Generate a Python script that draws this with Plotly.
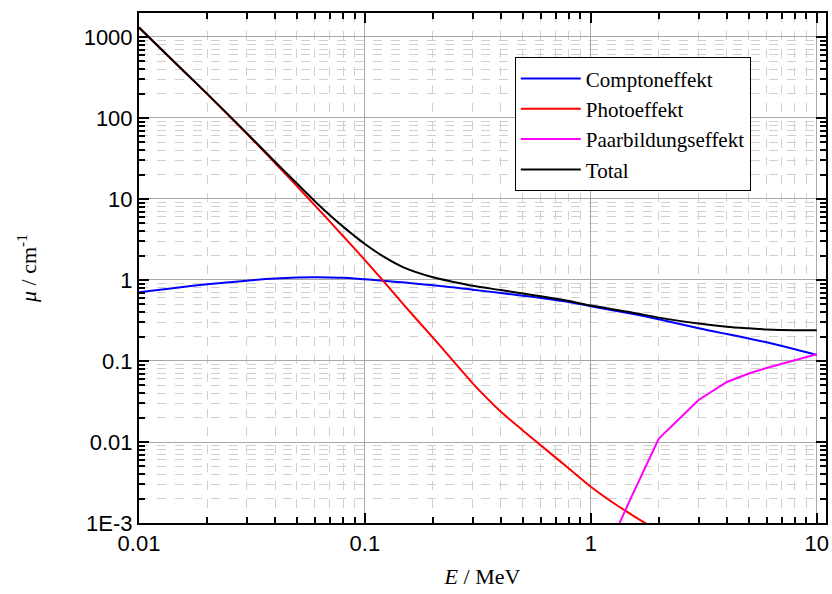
import plotly.graph_objects as go

# Energies (MeV)
E_main = [0.01, 0.015, 0.02, 0.03, 0.04, 0.05, 0.06, 0.07, 0.08, 0.09, 0.1, 0.12, 0.15, 0.2, 0.25, 0.3,
          0.4, 0.5, 0.6, 0.8, 1.0, 1.5, 2.0, 3.0, 4.0, 5.0, 6.0, 8.0, 10.0]

compton = [0.705, 0.81, 0.885, 0.98, 1.04, 1.07, 1.08, 1.075, 1.065, 1.045, 1.02, 0.98, 0.93, 0.86, 0.81, 0.76,
           0.69, 0.64, 0.60, 0.535, 0.475, 0.385, 0.327, 0.253, 0.215, 0.19, 0.17, 0.14, 0.119]

total = [1307, 434, 200, 65, 28.8, 15.5, 9.4, 6.3, 4.56, 3.49, 2.78, 1.97, 1.41, 1.08, 0.94, 0.85,
         0.75, 0.68, 0.63, 0.55, 0.483, 0.40, 0.343, 0.29, 0.265, 0.253, 0.245, 0.24, 0.24]

E_photo = [0.01, 0.015, 0.02, 0.03, 0.04, 0.05, 0.06, 0.07, 0.08, 0.09, 0.1, 0.12, 0.15, 0.2, 0.25, 0.3,
           0.4, 0.5, 0.6, 0.8, 1.0, 1.25, 1.5, 1.75, 2.0]
photo = [1306, 433, 199, 64, 27.8, 14.4, 8.33, 5.25, 3.49, 2.44, 1.76, 0.99, 0.48, 0.194, 0.095, 0.053,
         0.0236, 0.0139, 0.0091, 0.0047, 0.0028, 0.00179, 0.00129, 0.00099, 0.0008]

E_pair = [1.25, 1.5, 2.0, 3.0, 4.0, 5.0, 6.0, 8.0, 10.0]
pair = [0.00065, 0.002, 0.011, 0.033, 0.055, 0.07, 0.082, 0.102, 0.121]

y_tickvals = [1e-3, 1e-2, 1e-1, 1, 10, 100, 1000]
y_ticktext = ["1E-3", "0.01", "0.1", "1", "10", "100", "1000"]
x_tickvals = [0.01, 0.1, 1, 10]
x_ticktext = ["0.01", "0.1", "1", "10"]

def minor_positions(decades):
    return [k * 10.0 ** d for d in decades for k in range(2, 10)]

x_minor = minor_positions([-2, -1, 0])
y_minor = minor_positions([-3, -2, -1, 0, 1, 2, 3])

fig = go.Figure()
fig.add_trace(go.Scatter(x=E_main, y=compton, mode="lines", name="Comptoneffekt",
                         line=dict(color="#0000ff", width=2, shape="spline", smoothing=0.8)))
fig.add_trace(go.Scatter(x=E_photo, y=photo, mode="lines", name="Photoeffekt",
                         line=dict(color="#ff0000", width=2, shape="spline", smoothing=0.8)))
fig.add_trace(go.Scatter(x=E_pair, y=pair, mode="lines", name="Paarbildungseffekt",
                         line=dict(color="#ff00ff", width=2)))
fig.add_trace(go.Scatter(x=E_main, y=total, mode="lines", name="Total",
                         line=dict(color="#000000", width=2, shape="spline", smoothing=0.8)))

def axis_common(minor_vals):
    return dict(
        type="log", automargin=False,
        showline=True, linecolor="black", linewidth=2, mirror="allticks",
        ticks="inside", ticklen=10, tickwidth=2, tickcolor="black",
        showgrid=True, gridcolor="#a8a8a8", gridwidth=1,
        zeroline=False,
        tickfont=dict(family="Liberation Sans, Arial", size=22, color="black"),
        minor=dict(tickmode="array", tickvals=minor_vals, ticks="inside", ticklen=6,
                   tickwidth=2, tickcolor="black",
                   showgrid=True, gridcolor="#d0d0d0", griddash="dash", gridwidth=1),
    )

fig.update_xaxes(**axis_common(x_minor), range=[-2, 1.041], tickmode="array",
                 tickvals=x_tickvals, ticktext=x_ticktext,
                 title=dict(text="<i>E</i> / MeV",
                            font=dict(family="Liberation Serif, Times New Roman", size=22, color="black"),
                            standoff=13))
fig.update_yaxes(**axis_common(y_minor), range=[-3, 3.296], tickmode="array",
                 tickvals=y_tickvals, ticktext=y_ticktext,
                 title=dict(text="<i>μ</i> / cm<sup>-1</sup>",
                            font=dict(family="Liberation Serif, Times New Roman", size=22, color="black"),
                            standoff=41))

fig.update_layout(
    width=832, height=594,
    margin=dict(l=139, r=6, t=13, b=71),
    paper_bgcolor="white", plot_bgcolor="white",
    showlegend=True,
    legend=dict(x=0.547, y=0.913, xanchor="left", yanchor="top",
                bgcolor="white", bordercolor="black", borderwidth=1,
                font=dict(family="Liberation Serif, Times New Roman", size=21, color="black"),
                itemwidth=60, tracegroupgap=0),
)

# remove the browser's default 8px page margin so the figure fills the window exactly
fig.write_html("out.html",
               config={"displayModeBar": False},
               post_script="document.body.style.margin='0px';document.body.style.overflow='hidden';")
